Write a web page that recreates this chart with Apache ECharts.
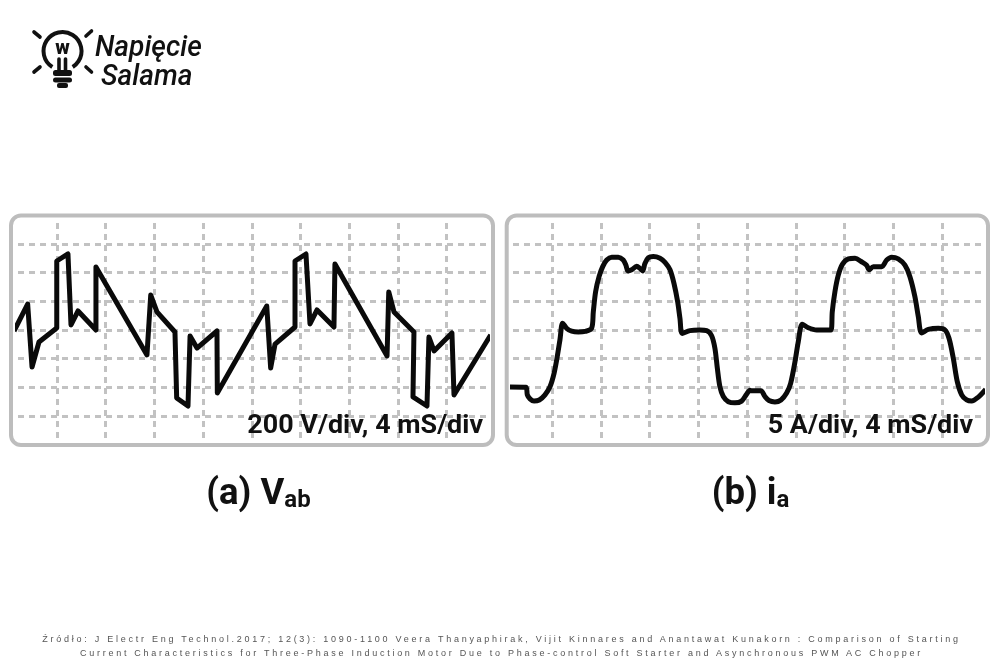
<!DOCTYPE html>
<html><head><meta charset="utf-8">
<style>
html,body{margin:0;padding:0;background:#fff;width:1000px;height:667px;overflow:hidden}
#c{position:absolute;left:0;top:0;width:1000px;height:667px}
.src{position:absolute;left:1.5px;width:1000px;text-align:center;font:9px/12px "Liberation Sans",sans-serif;letter-spacing:2.74px;color:#555;white-space:nowrap}
</style>
<script src="https://cdn.jsdelivr.net/npm/echarts@6/dist/echarts.min.js"></script>
</head><body>
<div id="c"></div>
<div class="src" style="top:633px">Źródło: J Electr Eng Technol.2017; 12(3): 1090-1100 Veera Thanyaphirak, Vijit Kinnares and Anantawat Kunakorn : Comparison of Starting</div>
<div class="src" style="top:647px">Current Characteristics for Three-Phase Induction Motor Due to Phase-control Soft Starter and Asynchronous PWM AC Chopper</div>
<script>
const timeTicks = [4,8,12,16,20,24,28,32,36];
const voltageTicks = [-600,-400,-200,0,200,400,600];
const currentTicks = [-15,-10,-5,0,5,10,15];
const voltageTimes = [0.47,1.59,1.95,2.52,3.98,3.98,4.90,5.15,5.73,7.2,7.2,11.39,11.7,12.21,13.69,13.83,14.76,14.93,15.5,17.14,17.17,21.23,21.55,21.91,23.55,23.55,24.45,24.78,25.36,26.75,26.83,31.11,31.25,31.68,33.32,33.24,34.39,34.55,34.97,36.44,36.61,39.62];
const voltageValues = [-7,181,-258,-84,14,481,530,35,133,0,439,-174,244,126,-14,-474,-530,-42,-126,-7,-439,167,-265,-98,21,481,530,42,140,21,460,-181,265,126,-14,-467,-530,-49,-146,-21,-453,-35];
const currentTimes = [0.44,1.84,1.95,2.17,2.5,2.93,3.4,3.81,4.14,4.41,4.63,4.85,5.18,5.59,6.14,6.69,7.23,7.37,7.56,7.84,8.14,8.47,8.88,9.42,9.83,10.05,10.22,10.52,10.93,11.2,11.42,11.61,11.89,12.3,12.85,13.26,13.67,14.0,14.3,14.49,14.68,15.31,16.13,16.68,17.09,17.36,17.56,17.77,18.05,18.46,19.0,19.55,19.96,20.24,20.32,21.14,21.47,21.8,22.29,22.79,23.25,23.58,23.94,24.21,24.54,25.03,25.72,26.89,27.0,27.22,27.5,27.83,28.32,28.87,29.41,29.82,30.04,30.37,31.06,31.47,31.88,32.42,32.97,33.38,33.79,34.07,34.34,34.89,35.71,36.26,36.59,36.94,37.27,37.63,38.04,38.45,39.0,39.6];
const currentValues = [-9.94,-10,-11.3,-12,-12.4,-12.2,-11.3,-9.9,-7.6,-4.6,-1.7,1.2,0.3,-0.2,-0.35,-0.25,0.3,3.2,6.7,9.3,11.05,12.2,12.7,12.7,12.2,11.3,10.3,10.5,11.1,10.75,10.3,11.6,12.6,12.8,12.5,11.8,10.5,8.1,4.9,2,-0.6,-0.1,0,-0.1,-1,-3.2,-6.7,-9.9,-11.6,-12.5,-12.7,-12.4,-11.2,-10.5,-10.6,-10.6,-11.6,-12.3,-12.55,-12.2,-11,-9.3,-5.5,-2,1,0.4,0,0,3.2,6.7,9.6,11.45,12.4,12.5,11.9,11.3,10.5,11.05,11.05,12.2,12.7,12.4,11.3,9.3,5.8,2.3,-0.5,0.1,0.3,0,-1.45,-4.9,-9,-11.3,-12.2,-12.4,-11.7,-10.35];
const voltageLabel = '200 V/div, 4 mS/div';
const currentLabel = '5 A/div, 4 mS/div';

const zip = (a,b) => a.map((v,i)=>[v,b[i]]);
const dash = {color:'#c2c2c2',width:3,type:[6,5]};
function xAxis(i,min,max){return {gridIndex:i,type:'value',min,max,axisLine:{show:false},
  axisTick:{show:false,customValues:timeTicks},axisLabel:{show:false,customValues:timeTicks},
  splitLine:{show:true,lineStyle:dash}};}
function yAxis(i,min,max,t){return {gridIndex:i,type:'value',min,max,axisLine:{show:false},
  axisTick:{show:false,customValues:t},axisLabel:{show:false,customValues:t},
  splitLine:{show:true,lineStyle:dash}};}
function trace(i,data,smooth){return {type:'line',xAxisIndex:i,yAxisIndex:i,data,showSymbol:false,symbol:'none',clip:false,
  smooth,lineStyle:{color:'#0a0a0a',width:5,join:'round'},z:3,silent:true};}
const ray=(x1,y1,x2,y2)=>({type:'line',shape:{x1,y1,x2,y2},style:{stroke:'#111',lineWidth:3.6,lineCap:'round'},z:10});
const panel=(x,w)=>({type:'rect',shape:{x,y:215.5,width:w,height:229.5,r:10},style:{fill:'none',stroke:'#bdbdbd',lineWidth:4},z:1});
const cap={m:{font:'700 36.5px Roboto',fill:'#111',verticalAlign:'bottom',lineHeight:40},s:{font:'700 24px Roboto',fill:'#111',verticalAlign:'bottom',lineHeight:36}};
const chart = echarts.init(document.getElementById('c'),null,{renderer:'canvas'});
chart.setOption({
  animation:false,
  backgroundColor:'#fff',
  grid:[{left:18,right:513,top:223,bottom:227},{left:513,right:18,top:223,bottom:227}],
  xAxis:[xAxis(0,0.797,39.32),xAxis(1,0.772,39.3)],
  yAxis:[yAxis(0,-767,746,voltageTicks),yAxis(1,-19.18,18.66,currentTicks)],
  series:[trace(0,zip(voltageTimes,voltageValues),false),trace(1,zip(currentTimes,currentValues),0.3)],
  graphic:[
    panel(11,482),panel(506.7,481.3),
    {type:'text',z:20,x:483,y:426.5,scaleX:1.055,style:{text:voltageLabel,x:0,y:0,align:'right',verticalAlign:'middle',font:'700 25.5px Roboto',fill:'#111'}},
    {type:'text',z:20,x:973,y:426.5,scaleX:1.055,style:{text:currentLabel,x:0,y:0,align:'right',verticalAlign:'middle',font:'700 25.5px Roboto',fill:'#111'}},
    {type:'text',z:20,style:{x:258.5,y:493,align:'center',verticalAlign:'middle',text:'{m|(a) V}{s|ab}',rich:cap}},
    {type:'text',z:20,style:{x:750.5,y:493,align:'center',verticalAlign:'middle',text:'{m|(b) i}{s|a}',rich:cap}},
    {type:'arc',z:10,shape:{cx:62.5,cy:51,r:19,startAngle:Math.PI*0.68,endAngle:Math.PI*0.32,clockwise:true},style:{stroke:'#111',fill:'none',lineWidth:4}},
    ray(34,32,40,37),ray(91.5,31,86,36),ray(34,72,40,67),ray(91.5,72,86,67),
    ray(59,59,59,70),ray(65.5,59,65.5,70),
    {type:'rect',z:10,shape:{x:53,y:70,width:19,height:6,r:2.5},style:{fill:'#111'}},
    {type:'rect',z:10,shape:{x:53,y:77.5,width:19,height:5,r:2.5},style:{fill:'#111'}},
    {type:'rect',z:10,shape:{x:57,y:83,width:11,height:5,r:2},style:{fill:'#111'}},
    {type:'text',z:10,style:{text:'w',x:62.5,y:49,align:'center',verticalAlign:'middle',font:'900 20px Roboto',fill:'#111'}},
    {type:'text',z:10,x:95,y:48.5,scaleX:0.97,style:{text:'Napięcie',x:0,y:0,verticalAlign:'middle',font:'italic 500 29px Roboto',fill:'#111'}},
    {type:'text',z:10,x:101,y:77.5,scaleX:0.97,style:{text:'Salama',x:0,y:0,verticalAlign:'middle',font:'italic 500 29px Roboto',fill:'#111'}}
  ]
});
</script>
</body></html>
